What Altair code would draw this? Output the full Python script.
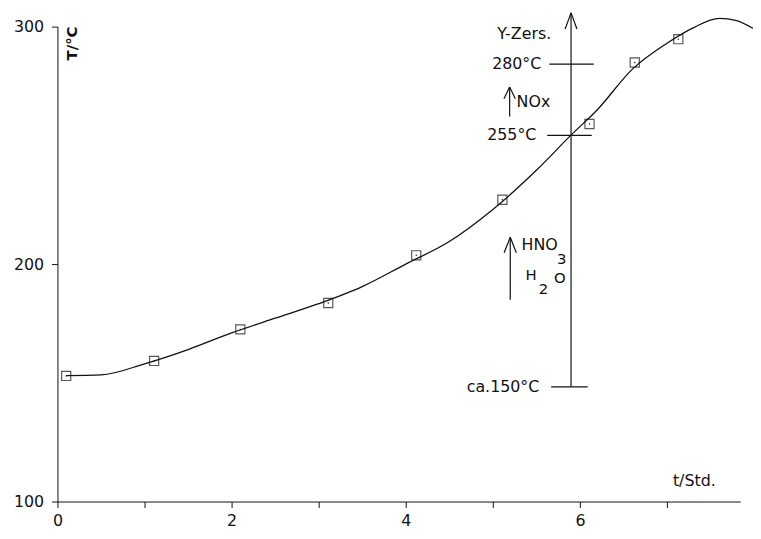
import altair as alt
import pandas as pd

# measured points (t in h, T in °C)
pt_t = [0.10, 1.11, 2.10, 3.11, 4.12, 5.11, 6.11, 6.63, 7.13]
pt_T = [152.9, 159.2, 172.5, 183.6, 203.7, 227.1, 259.0, 284.9, 294.7]

# smooth curve
cv_t = [0.10, 0.50, 1.00, 1.50, 2.00, 2.50, 3.00, 3.50, 4.00, 4.50, 5.00, 5.50, 5.90, 6.20, 6.60, 7.00, 7.30, 7.60, 7.80, 7.99]
cv_T = [153.0, 153.3, 158.0, 164.0, 171.0, 177.2, 183.3, 190.5, 200.0, 209.5, 223.0, 239.5, 254.4, 265.0, 282.0, 293.0, 299.5, 303.5, 302.5, 299.2]

# annotation segments
seg_x = [5.898, 5.898, 5.898, 5.67, 5.648, 5.625, 5.193, 5.193, 5.193, 5.20, 5.20, 5.20]
seg_x2 = [5.898, 5.83, 5.966, 6.09, 6.159, 6.136, 5.193, 5.128, 5.258, 5.20, 5.13, 5.27]
seg_y = [148.3, 305.8, 305.8, 148.3, 284.2, 254.2, 262.1, 274.6, 274.6, 185.0, 211.3, 211.3]
seg_y2 = [305.8, 299.0, 299.0, 148.3, 284.2, 254.2, 274.6, 269.6, 269.6, 211.3, 204.8, 204.8]

# annotation texts
lbl_right = ["Y-Zers.", "280°C", "255°C", "ca.150°C"]
lbl_right_t = [5.67, 5.557, 5.50, 5.534]
lbl_right_T = [296.7, 284.2, 254.2, 148.3]

lbl_left = ["NOx", "HNO", "t/Std."]
lbl_left_t = [5.273, 5.33, 7.068]
lbl_left_T = [268.3, 207.9, 108.75]

lbl_center = ["3", "H", "2", "O"]
lbl_center_t = [5.79, 5.44, 5.58, 5.77]
lbl_center_T = [202.2, 195.4, 189.4, 194.2]

ylab = ["T/°C"]
ylab_t = [0.17]
ylab_T = [292.9]

xs = alt.Scale(domain=[0, 7.84], nice=False, zero=False)
ys = alt.Scale(domain=[100, 300], nice=False, zero=False)
FONT = "DejaVu Sans"
INK = "#111111"

pts = pd.DataFrame({"t": pt_t, "T": pt_T})
cv = pd.DataFrame({"t": cv_t, "T": cv_T})
seg = pd.DataFrame({"t": seg_x, "t2": seg_x2, "T": seg_y, "T2": seg_y2})
tr = pd.DataFrame({"t": lbl_right_t, "T": lbl_right_T, "s": lbl_right})
tl = pd.DataFrame({"t": lbl_left_t, "T": lbl_left_T, "s": lbl_left})
tc = pd.DataFrame({"t": lbl_center_t, "T": lbl_center_T, "s": lbl_center})
ty = pd.DataFrame({"t": ylab_t, "T": ylab_T, "s": ylab})

X = alt.X("t:Q", scale=xs, title=None,
          axis=alt.Axis(values=[0, 1, 2, 3, 4, 5, 6, 7], tickSize=6, labelPadding=5,
                        labelExpr="datum.value % 2 == 0 ? datum.label : ''",
                        labelFont=FONT, labelFontSize=16, labelColor=INK,
                        domainColor=INK, tickColor=INK, grid=False, labelFlush=False))
Y = alt.Y("T:Q", scale=ys, title=None,
          axis=alt.Axis(values=[100, 200, 300], tickSize=6, labelPadding=8,
                        labelFont=FONT, labelFontSize=16, labelColor=INK,
                        domainColor=INK, tickColor=INK, grid=False, labelFlush=False))

line = alt.Chart(cv).mark_line(color=INK, strokeWidth=1.3, interpolate="monotone").encode(x=X, y=Y)

squares = alt.Chart(pts).mark_point(shape="square", filled=False, size=85, color=INK, strokeWidth=1.2).encode(x=X, y=Y)
dots = alt.Chart(pts).mark_circle(size=2, color=INK, opacity=1).encode(x=X, y=Y)

rules = alt.Chart(seg).mark_rule(color=INK, strokeWidth=1.2).encode(x=X, x2="t2:Q", y=Y, y2="T2:Q")

txt_r = alt.Chart(tr).mark_text(align="right", baseline="middle", font=FONT, fontSize=16, color=INK).encode(
    x=X, y=Y, text="s:N")
txt_l = alt.Chart(tl).mark_text(align="left", baseline="middle", font=FONT, fontSize=16, color=INK).encode(
    x=X, y=Y, text="s:N")
txt_c = alt.Chart(tc).mark_text(align="center", baseline="middle", font=FONT, fontSize=15, color=INK).encode(
    x=X, y=Y, text="s:N")
txt_y = alt.Chart(ty).mark_text(align="center", baseline="middle", angle=270, font=FONT, fontSize=15,
                                fontWeight="bold", color=INK).encode(x=X, y=Y, text="s:N")

chart = alt.layer(line, squares, dots, rules, txt_r, txt_l, txt_c, txt_y).properties(
    width=690, height=480,
    autosize=alt.AutoSizeParams(type="none"),
    padding={"left": 50, "top": 16, "right": 13, "bottom": 30},
    background="white",
).configure_view(stroke=None)

chart.save("out.html", embed_options={"renderer": "svg", "actions": False})
